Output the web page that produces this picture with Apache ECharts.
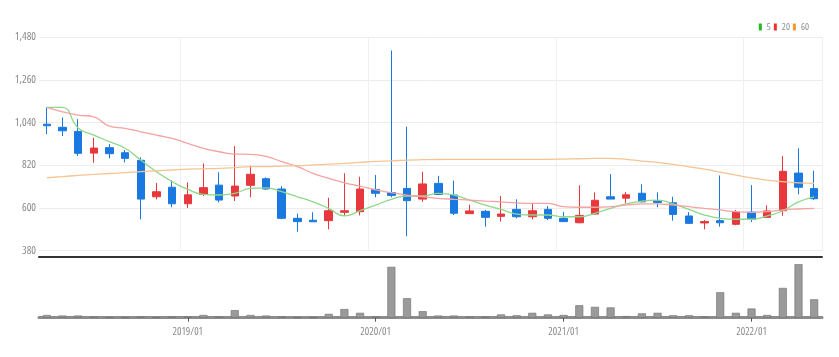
<!DOCTYPE html>
<html><head><meta charset="utf-8">
<script src="https://cdn.jsdelivr.net/npm/echarts@6/dist/echarts.min.js"></script>
<style>html,body{margin:0;padding:0;background:#fff}#c{width:839px;height:357px}</style>
</head><body><div id="c"></div>
<script>
const months = ['2018/04','2018/05','2018/06','2018/07','2018/08','2018/09','2018/10','2018/11','2018/12',
'2019/01','2019/02','2019/03','2019/04','2019/05','2019/06','2019/07','2019/08','2019/09','2019/10','2019/11','2019/12',
'2020/01','2020/02','2020/03','2020/04','2020/05','2020/06','2020/07','2020/08','2020/09','2020/10','2020/11','2020/12',
'2021/01','2021/02','2021/03','2021/04','2021/05','2021/06','2021/07','2021/08','2021/09','2021/10','2021/11','2021/12',
'2022/01','2022/02','2022/03','2022/04','2022/05'];
// [open, close, low, high]
const ohlc = [
[1032,1024,981,1119],[1016,998,971,1067],[995,882,868,1058],[883,909,833,962],[911,880,856,930],
[885,856,835,899],[846,646,542,861],[658,684,645,729],[707,622,604,743],
[622,668,600,732],[670,705,662,830],[718,641,629,784],[662,713,636,919],[717,774,655,818],[751,698,693,758],
[698,547,542,713],[547,530,478,571],[537,529,528,578],[535,586,490,653],[578,586,559,779],[581,698,562,761],
[696,676,655,770],[680,665,655,1412],[701,638,454,1019],[646,724,632,787],[727,670,668,766],[667,573,564,741],
[571,585,571,617],[583,552,504,590],[557,569,530,662],[593,555,547,645],[555,586,542,621],[593,547,538,610],
[547,530,528,579],[524,562,521,717],[569,640,569,681],[658,646,646,775],[651,668,624,682],[676,632,629,722],
[638,629,604,681],[627,567,535,658],[559,521,518,579],[523,530,490,538],[535,524,504,768],[516,579,511,590],
[579,542,528,718],[552,585,552,614],[586,789,560,868],[780,707,671,908],[700,648,641,792]
];
const ma5 = [1119,1119,1012,976,942,908,847,787,736,696,670,667,676,701,704,684,658,632,598,559,586,615,645,662,662,676,667,641,615,593,569,564,564,555,555,573,598,621,636,641,621,593,564,547,542,542,559,586,632,658];
const ma20 = [1119,1096,1079,1070,1022,1011,993,976,959,933,908,890,878,877,866,839,813,779,753,730,713,693,679,667,658,650,645,641,636,632,627,624,624,607,604,604,607,615,621,621,615,607,598,590,581,578,581,590,595,598];
const ma60 = [756,762,768,773,778,782,788,792,796,800,802,804,808,813,813,816,818,822,826,830,835,840,843,847,849,850,851,851,851,851,851,851,851,852,854,856,856,851,842,835,825,812,800,785,770,755,744,736,730,727];
const volume = [5,4,4,2,0.6,0.6,2,0.6,2,2,5,2,14,5,4,2,0.6,0.6,7,16,9,2,94,36,12,4,4,2,2,6,4.5,9,6,5,23,20,19,3,8,9,4.5,4.5,2,47,9,17,5,55,99,34];

const UP = '#e8383d', DOWN = '#1a79e0';
const FONT = '"Open Sans", sans-serif';
const STRETCH = 'condensed';
const isJan = (i, v) => String(v).endsWith('/01');

const chart = echarts.init(document.getElementById('c'), null, {renderer: 'canvas'});
chart.setOption({
  animation: false,
  backgroundColor: '#fff',
  legend: {
    right: 30, top: 22, padding: 0, itemWidth: 3, itemHeight: 7, itemGap: 3, itemTextGap: 1, icon: 'rect',
    textStyle: {color: '#8a8a8a', fontSize: 9.5, fontFamily: FONT, fontStyle: STRETCH, padding: 0},
    data: ['5','20','60']
  },
  grid: [
    {left: 39, right: 17, top: 37.3, height: 213.4},
    {left: 39, right: 17, top: 262, height: 55.7}
  ],
  xAxis: [
    {type: 'category', gridIndex: 0, data: months, boundaryGap: true,
     offset: 6,
     axisLine: {show: true, lineStyle: {color: '#333', width: 2}},
     axisTick: {show: false}, axisLabel: {show: false},
     splitLine: {show: true, interval: isJan, lineStyle: {color: '#f0f0f0'}}},
    {type: 'category', gridIndex: 1, data: months, boundaryGap: true,
     axisLine: {show: true, lineStyle: {color: '#8c8c8c', width: 3}},
     axisTick: {show: true, interval: isJan, alignWithLabel: true, length: 4, lineStyle: {color: '#555'}},
     axisLabel: {interval: isJan, color: '#8a8a8a', fontSize: 10.5, fontFamily: FONT, fontStyle: STRETCH, margin: 9},
     splitLine: {show: false}}
  ],
  yAxis: [
    {type: 'value', gridIndex: 0, min: 380, max: 1480, interval: 220, scale: true,
     axisLine: {show: false}, axisTick: {show: false},
     axisLabel: {color: '#8a8a8a', fontSize: 11, fontFamily: FONT, fontStyle: STRETCH, margin: 3,
       formatter: v => v.toLocaleString('en-US')},
     splitLine: {lineStyle: {color: '#ececec'}}},
    {type: 'value', gridIndex: 1, min: 0, max: 103,
     axisLine: {show: false}, axisTick: {show: false}, axisLabel: {show: false},
     splitLine: {show: false}}
  ],
  series: [
    {type: 'candlestick', name: 'price', xAxisIndex: 0, yAxisIndex: 0, data: ohlc, barWidth: 8,
     itemStyle: {color: UP, color0: DOWN, borderColor: UP, borderColor0: DOWN, borderWidth: 1}},
    {type: 'line', name: '5', data: ma5, xAxisIndex: 0, yAxisIndex: 0, smooth: true, symbol: 'none',
     lineStyle: {color: '#8ed88a', width: 1.3}, itemStyle: {color: '#22b822'}, z: 3},
    {type: 'line', name: '20', data: ma20, xAxisIndex: 0, yAxisIndex: 0, smooth: true, symbol: 'none',
     lineStyle: {color: '#f4a2a2', width: 1.3}, itemStyle: {color: '#ee3030'}, z: 3},
    {type: 'line', name: '60', data: ma60, xAxisIndex: 0, yAxisIndex: 0, smooth: true, symbol: 'none',
     lineStyle: {color: '#f6c493', width: 1.3}, itemStyle: {color: '#f59a30'}, z: 3},
    {type: 'bar', name: 'vol', xAxisIndex: 1, yAxisIndex: 1, data: volume, barWidth: 8,
     itemStyle: {color: '#9a9a9a', borderColor: '#6e6e6e', borderWidth: 0.6}}
  ]
});
</script></body></html>
